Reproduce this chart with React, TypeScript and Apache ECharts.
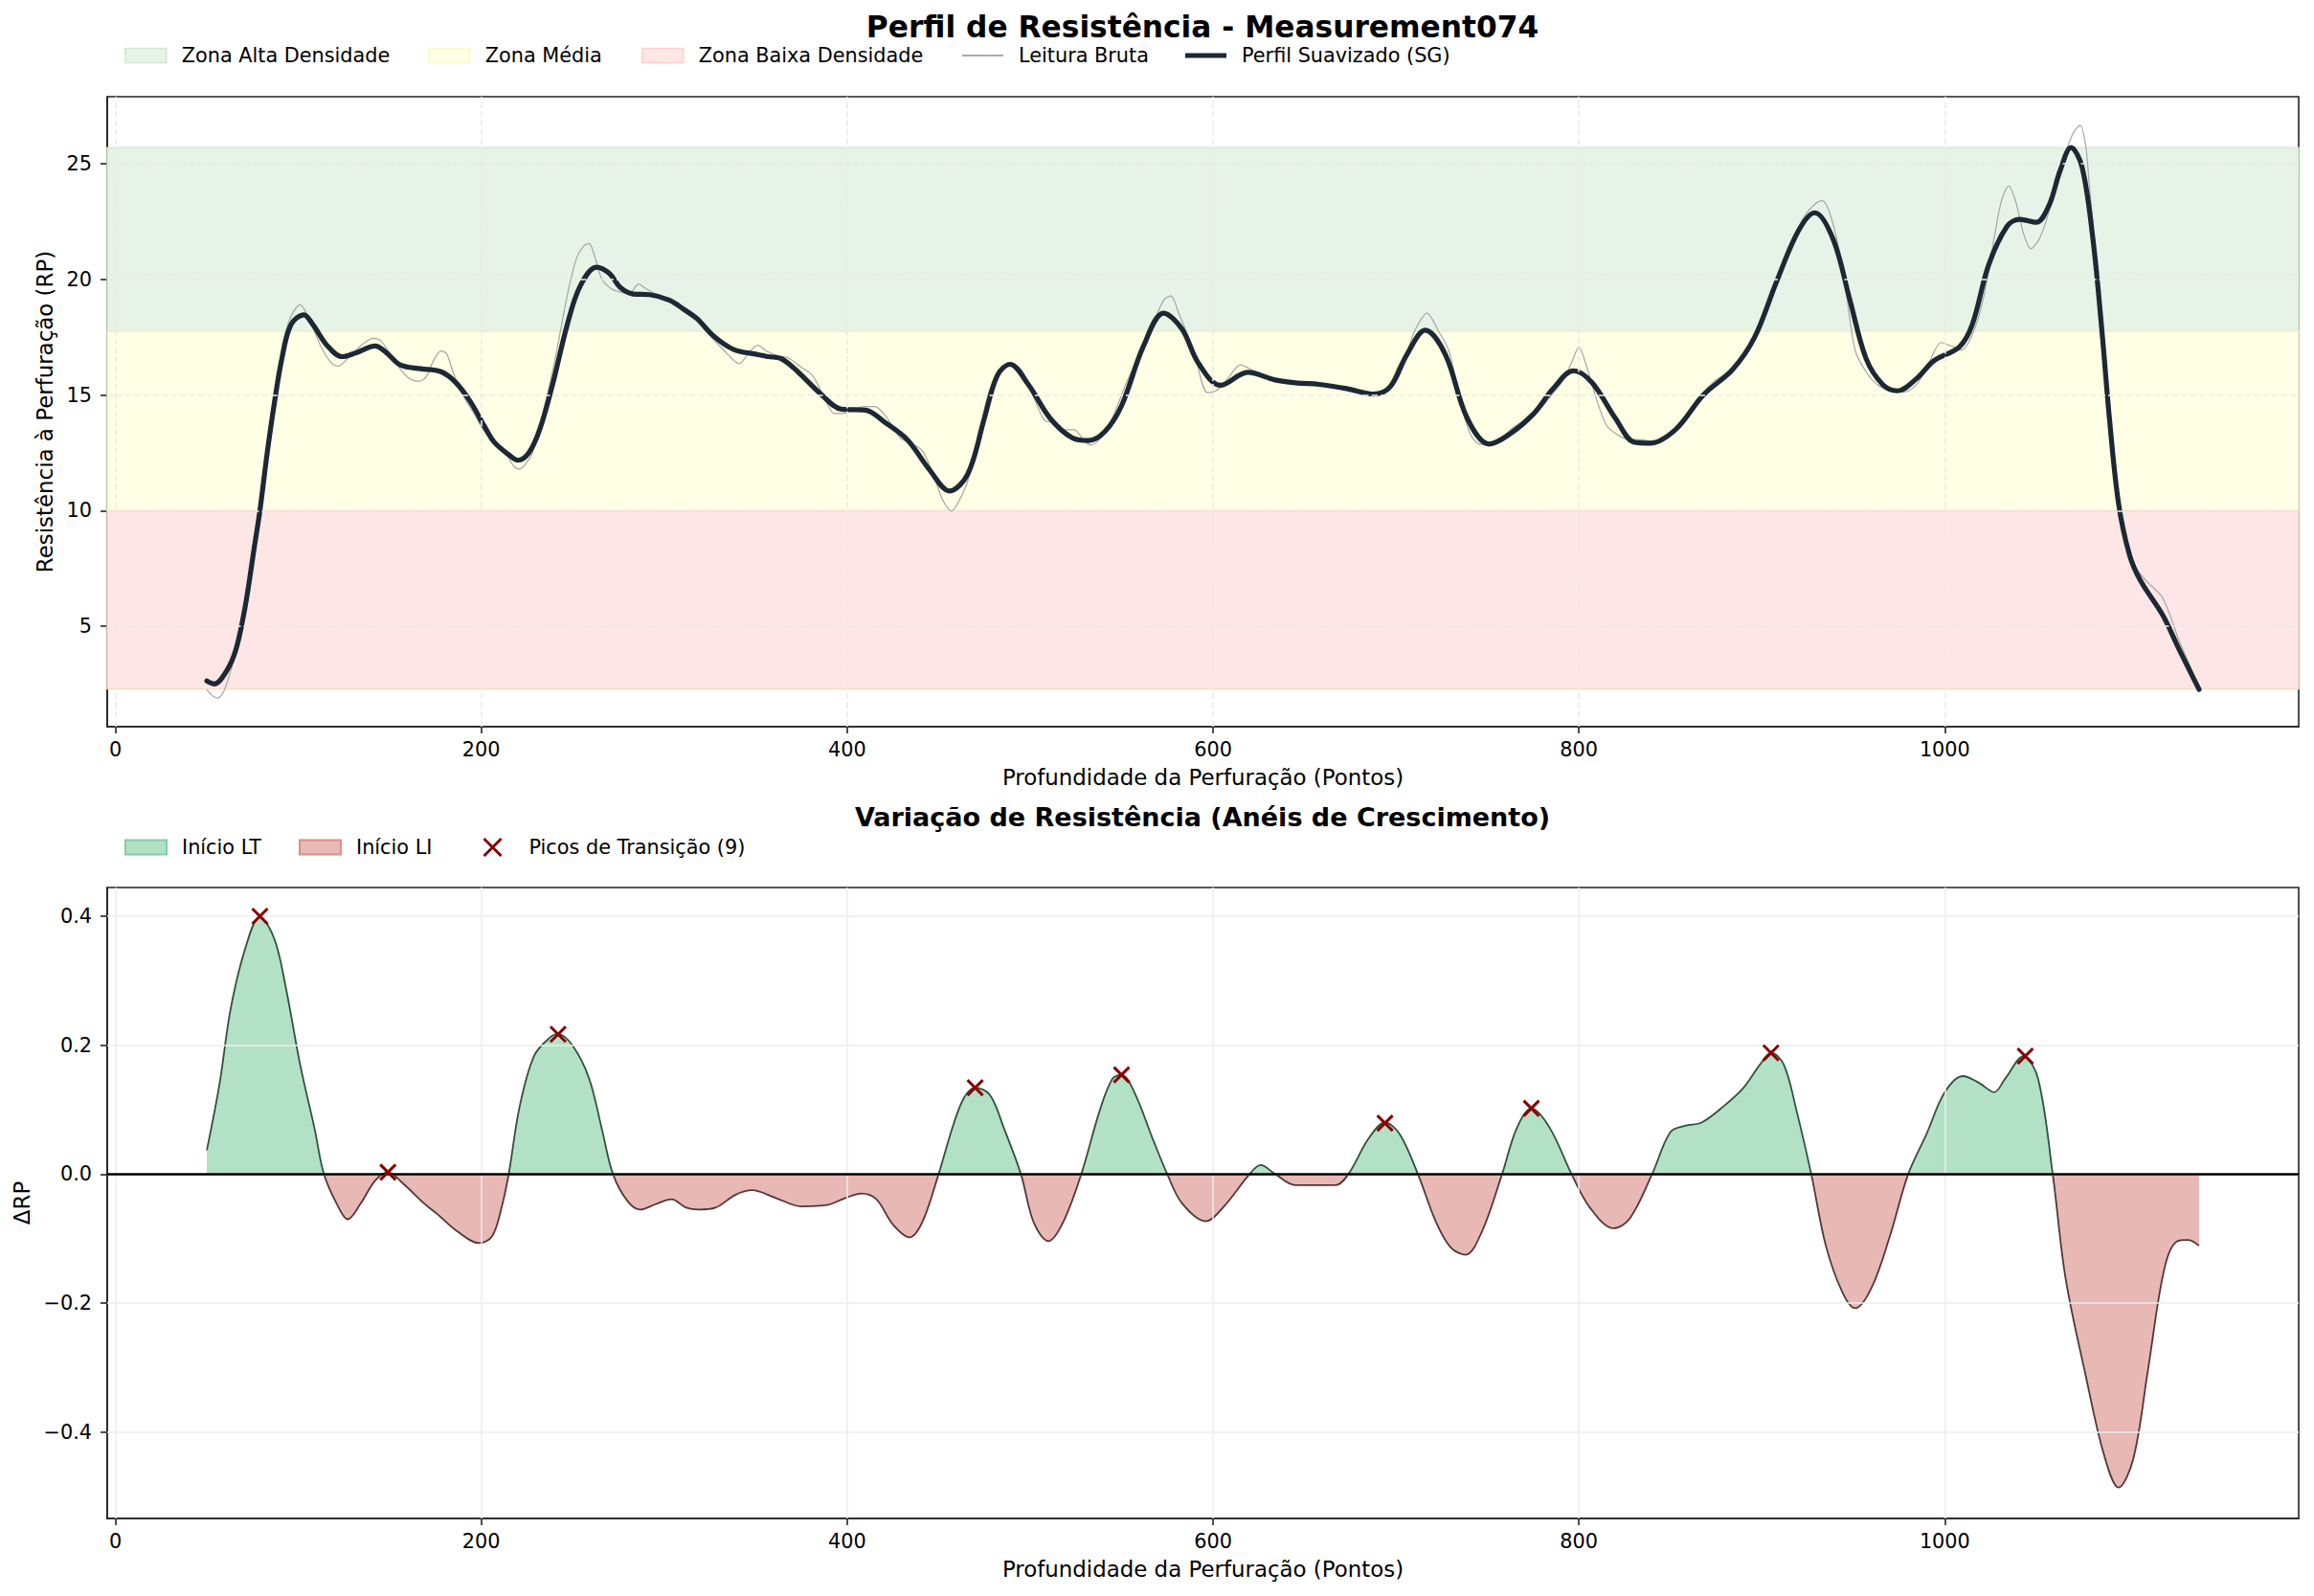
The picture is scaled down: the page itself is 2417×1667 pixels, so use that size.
import React, { useEffect, useRef } from "react";
import * as echarts from "echarts";

const FONT = "DejaVu Sans";

// ---------- Data ----------
const titleTop = "Perfil de Resistência - Measurement074";
const titleBottom = "Variação de Resistência (Anéis de Crescimento)";
const xAxisName = "Profundidade da Perfuração (Pontos)";
const yAxisNameTop = "Resistência à Perfuração (RP)";
const yAxisNameBottom = "ΔRP";

const xTicks = [0, 200, 400, 600, 800, 1000];
const rpTicks = [5, 10, 15, 20, 25];
const deltaTicks = [-0.4, -0.2, 0, 0.2, 0.4];

// zone limits: [low, mid-low, mid-high, high]
const zoneLimits = [2.3, 10.0, 17.75, 25.7];

// Smoothed profile (Savitzky-Golay)
const depthSG = [50, 54, 61, 66, 71, 76, 79, 83, 87, 91, 96, 103, 108, 116, 124, 132, 142, 148, 156, 167, 178, 186, 194, 202, 207, 215, 220, 226, 232, 239, 247, 254, 263, 270, 276, 283, 292, 303, 311, 318, 327, 338, 350, 357, 364, 373, 385, 397, 410, 421, 433, 445, 456, 466, 475, 482, 489, 499, 511, 523, 532, 541, 550, 562, 573, 583, 592, 604, 619, 634, 646, 658, 673, 688, 697, 706, 716, 727, 739, 751, 762, 775, 786, 797, 807, 820, 830, 839, 853, 868, 884, 896, 908, 920, 929, 939, 948, 957, 966, 974, 985, 994, 1008, 1015, 1024, 1034, 1041, 1050, 1057, 1063, 1069, 1075, 1081, 1086, 1090, 1095, 1101, 1107, 1119, 1128, 1139];
const rpSG = [2.64, 2.51, 3.1, 4.02, 5.87, 8.45, 10.0, 12.5, 14.7, 16.57, 18.04, 18.47, 18.04, 17.12, 16.66, 16.84, 17.12, 16.84, 16.29, 16.14, 16.01, 15.55, 14.72, 13.61, 12.97, 12.42, 12.18, 12.5, 13.52, 15.46, 18.04, 19.7, 20.53, 20.26, 19.65, 19.37, 19.34, 19.1, 18.69, 18.3, 17.55, 16.97, 16.77, 16.66, 16.57, 16.01, 15.09, 14.39, 14.35, 13.8, 13.06, 11.77, 10.85, 11.59, 13.99, 15.83, 16.33, 15.46, 13.99, 13.15, 13.03, 13.43, 14.54, 17.12, 18.54, 17.86, 16.38, 15.42, 15.98, 15.65, 15.52, 15.46, 15.28, 15.04, 15.37, 16.75, 17.8, 16.75, 13.99, 12.88, 13.3, 14.17, 15.28, 16.05, 15.55, 13.99, 12.97, 12.92, 13.52, 15.0, 16.1, 17.49, 19.89, 22.1, 22.88, 21.73, 19.15, 16.57, 15.46, 15.18, 15.74, 16.48, 17.08, 18.04, 20.63, 22.29, 22.6, 22.47, 23.21, 24.69, 25.7, 24.87, 21.73, 17.68, 13.99, 10.3, 8.08, 6.97, 5.5, 4.02, 2.27];

// Raw reading
const depthRaw = [50, 53, 56, 59, 62, 66, 71, 76, 80, 84, 88, 92, 96, 101, 104, 108, 113, 118, 122, 126, 131, 136, 141, 145, 150, 156, 161, 166, 170, 174, 178, 181, 185, 190, 196, 202, 208, 214, 218, 221, 224, 228, 233, 240, 247, 252, 256, 259, 262, 266, 271, 276, 281, 286, 290, 296, 303, 312, 320, 327, 333, 338, 341, 346, 351, 356, 362, 368, 375, 381, 387, 393, 398, 404, 410, 415, 421, 429, 435, 441, 447, 452, 457, 461, 466, 471, 477, 483, 491, 496, 503, 508, 513, 518, 524, 529, 533, 537, 541, 546, 552, 560, 567, 573, 577, 581, 586, 591, 597, 602, 608, 615, 621, 628, 634, 641, 648, 656, 664, 672, 680, 688, 696, 701, 706, 711, 717, 723, 729, 735, 740, 745, 751, 757, 764, 770, 775, 781, 786, 791, 796, 800, 804, 810, 815, 820, 826, 835, 843, 850, 858, 866, 874, 880, 887, 893, 899, 905, 911, 917, 923, 929, 933, 937, 942, 946, 951, 957, 963, 970, 978, 985, 992, 998, 1004, 1009, 1015, 1021, 1027, 1031, 1035, 1039, 1043, 1047, 1052, 1058, 1064, 1070, 1074, 1077, 1079, 1082, 1084, 1088, 1092, 1095, 1099, 1104, 1110, 1115, 1119, 1123, 1128, 1134, 1139];
const rpRaw = [2.27, 2.0, 1.9, 2.15, 2.8, 3.9, 5.8, 8.5, 10.6, 13.2, 15.5, 17.4, 18.4, 18.9, 18.6, 17.9, 17.0, 16.4, 16.25, 16.5, 16.9, 17.25, 17.45, 17.35, 16.8, 16.1, 15.7, 15.6, 15.8, 16.5, 16.9, 16.8, 15.9, 15.0, 14.2, 13.4, 12.9, 12.4, 11.9, 11.8, 12.0, 12.5, 14.0, 16.4, 19.3, 20.9, 21.45, 21.55, 21.0, 20.0, 19.6, 19.45, 19.4, 19.8, 19.6, 19.35, 19.1, 18.6, 18.1, 17.4, 16.9, 16.5, 16.35, 16.8, 17.15, 16.9, 16.7, 16.6, 16.2, 15.85, 15.0, 14.2, 14.2, 14.4, 14.5, 14.5, 14.1, 13.15, 12.9, 12.6, 11.6, 10.5, 9.98, 10.4, 11.3, 12.9, 15.0, 16.0, 16.3, 16.0, 14.7, 13.9, 13.8, 13.5, 13.5, 13.1, 12.84, 13.0, 13.4, 14.2, 15.4, 16.8, 18.04, 19.1, 19.28, 18.6, 17.6, 16.4, 15.1, 15.2, 15.7, 16.3, 16.1, 15.8, 15.6, 15.6, 15.5, 15.55, 15.4, 15.3, 15.2, 15.0, 15.4, 16.2, 16.9, 17.9, 18.54, 17.8, 16.9, 14.8, 13.43, 12.9, 12.85, 13.1, 13.6, 13.9, 14.1, 14.6, 15.09, 15.6, 16.4, 17.07, 16.3, 14.72, 13.7, 13.34, 13.1, 13.06, 12.95, 13.3, 13.9, 14.9, 15.6, 15.9, 16.3, 16.94, 18.0, 19.3, 20.6, 21.7, 22.7, 23.25, 23.4, 22.9, 21.36, 19.5, 16.94, 16.0, 15.46, 15.2, 15.13, 15.5, 16.5, 17.27, 17.1, 16.94, 17.6, 19.15, 21.8, 23.4, 24.04, 23.3, 22.0, 21.33, 21.8, 23.2, 25.0, 26.3, 26.66, 25.8, 24.1, 21.5, 19.5, 15.5, 12.1, 10.2, 8.82, 7.6, 6.97, 6.6, 6.24, 5.5, 4.4, 3.3, 2.27];

// Resistance variation (ΔRP)
const depthDelta = [50, 57, 63, 71, 79, 87, 93, 101, 109, 114, 121, 127, 134, 142, 149, 157, 169, 176, 187, 199, 206, 211, 215, 221, 229, 238, 242, 250, 259, 266, 272, 280, 287, 295, 304, 312, 319, 328, 339, 348, 361, 375, 389, 399, 408, 416, 425, 434, 441, 450, 458, 464, 470, 478, 486, 495, 502, 510, 518, 528, 538, 545, 550, 557, 567, 575, 583, 596, 606, 620, 626, 634, 645, 657, 667, 674, 685, 694, 702, 712, 722, 730, 738, 747, 758, 766, 774, 784, 796, 806, 819, 828, 840, 850, 858, 867, 879, 890, 899, 905, 912, 919, 927, 935, 944, 951, 960, 970, 980, 990, 1000, 1010, 1019, 1027, 1033, 1043, 1051, 1059, 1066, 1077, 1087, 1095, 1103, 1111, 1120, 1127, 1133, 1139];
const deltaRP = [0.037, 0.141, 0.256, 0.35, 0.399, 0.364, 0.292, 0.17, 0.069, 0.0, -0.046, -0.07, -0.046, -0.01, 0.003, -0.014, -0.046, -0.062, -0.089, -0.107, -0.096, -0.053, 0.0, 0.105, 0.184, 0.213, 0.217, 0.199, 0.148, 0.069, 0.0, -0.042, -0.055, -0.047, -0.039, -0.052, -0.055, -0.052, -0.032, -0.025, -0.037, -0.05, -0.048, -0.037, -0.03, -0.039, -0.078, -0.098, -0.075, 0.0, 0.076, 0.119, 0.134, 0.123, 0.069, 0.0, -0.075, -0.104, -0.075, 0.0, 0.098, 0.148, 0.154, 0.127, 0.055, 0.0, -0.045, -0.073, -0.05, 0.0, 0.014, 0.0, -0.017, -0.017, -0.017, 0.0, 0.055, 0.08, 0.062, 0.0, -0.075, -0.114, -0.125, -0.089, 0.0, 0.071, 0.102, 0.072, 0.0, -0.052, -0.084, -0.068, 0.0, 0.065, 0.075, 0.08, 0.105, 0.134, 0.17, 0.188, 0.17, 0.098, 0.0, -0.111, -0.183, -0.208, -0.176, -0.096, 0.0, 0.062, 0.127, 0.152, 0.141, 0.127, 0.148, 0.183, 0.148, 0.0, -0.161, -0.312, -0.435, -0.486, -0.442, -0.305, -0.147, -0.104, -0.102, -0.111];

// Transition peaks
const peakDepth = [79, 149, 242, 470, 550, 694, 774, 905, 1044];
const peakDelta = [0.4, 0.003, 0.217, 0.134, 0.154, 0.079, 0.102, 0.188, 0.183];

// ---------- Styling ----------
const W = 2417;
const H = 1667;
const GRID_LEFT = 112;
const GRID_W = 2289;
const X_MIN = -4.45;
const X_MAX = 1193.45;

const pairs = (xs: number[], ys: number[]) => xs.map((x, i) => [x, ys[i]]);

const txt = { fontFamily: FONT, fontSize: 20.8, color: "#000" };
const nameTxt = { fontFamily: FONT, fontSize: 22.9, color: "#000" };

function legendOne(name: string, left: number, top: number, w: number, h: number, icon: string, itemStyle: any, pad: number) {
  return {
    show: true,
    selectedMode: false,
    orient: "horizontal",
    left,
    top,
    padding: 0,
    itemGap: 0,
    itemWidth: w,
    itemHeight: h,
    symbolKeepAspect: false,
    data: [{ name, icon, itemStyle }],
    textStyle: { ...txt, lineHeight: 24, padding: [0, 0, 0, pad] },
  };
}

function xAxisCfg(gridIndex: number) {
  return {
    type: "value",
    gridIndex,
    min: X_MIN,
    max: X_MAX,
    axisLine: { show: true, onZero: false, lineStyle: { color: "#222", width: 1.6 } },
    axisTick: { show: true, inside: false, length: 7, lineStyle: { color: "#222", width: 1.6 }, customValues: xTicks },
    axisLabel: { ...txt, margin: 13, customValues: xTicks, formatter: (v: number) => String(Math.round(v)) },
    splitLine: { show: false },
    name: xAxisName,
    nameLocation: "middle",
    nameGap: 41,
    nameTextStyle: { ...nameTxt },
  };
}

export default function App() {
  const ref = useRef<HTMLDivElement>(null);

  useEffect(() => {
    if (!ref.current) return;
    const chart = echarts.init(ref.current, undefined, { renderer: "svg", width: W, height: H });

    const topGridLines = [
      ...xTicks.map((v) => ({ xAxis: v })),
      ...rpTicks.map((v) => ({ yAxis: v })),
    ];
    const bottomGridLines = [
      ...xTicks.map((v) => ({ xAxis: v })),
      ...deltaTicks.map((v) => ({ yAxis: v })),
    ];

    const zoneSeries = (name: string, lo: number, hi: number, fill: string, border: string) => ({
      name,
      type: "line",
      xAxisIndex: 0,
      yAxisIndex: 0,
      data: [],
      z: 1,
      itemStyle: { color: fill },
      silent: true,
      markArea: {
        silent: true,
        itemStyle: { color: fill, borderColor: border, borderWidth: 1.5 },
        label: { show: false },
        data: [[{ yAxis: lo }, { yAxis: hi }]],
      },
    });

    const series: any[] = [
      zoneSeries("Zona Alta Densidade", zoneLimits[2], zoneLimits[3], "#e6f3e6", "#d2e9cf"),
      zoneSeries("Zona Média", zoneLimits[1], zoneLimits[2], "#ffffe6", "#eef5c8"),
      zoneSeries("Zona Baixa Densidade", zoneLimits[0], zoneLimits[1], "#ffe6e6", "#fbd9c4"),
      {
        name: "gridTop",
        type: "line",
        xAxisIndex: 0,
        yAxisIndex: 0,
        data: [],
        z: 2,
        silent: true,
        markLine: {
          silent: true,
          symbol: ["none", "none"],
          label: { show: false },
          lineStyle: { color: "#eaeaea", width: 1.6, type: [6.5, 3] },
          data: topGridLines,
        },
      },
      {
        name: "Leitura Bruta",
        type: "line",
        xAxisIndex: 0,
        yAxisIndex: 0,
        data: pairs(depthRaw, rpRaw),
        smooth: 0.3,
        showSymbol: false,
        z: 3,
        itemStyle: { color: "#a5a5a5" },
        lineStyle: { color: "#a5a5a5", width: 1.2 },
      },
      {
        name: "Perfil Suavizado (SG)",
        type: "line",
        xAxisIndex: 0,
        yAxisIndex: 0,
        data: pairs(depthSG, rpSG),
        smooth: 0.35,
        showSymbol: false,
        z: 4,
        itemStyle: { color: "#1c2833" },
        lineStyle: { color: "#1c2833", width: 5.2, cap: "round", join: "round" },
      },
      {
        name: "gridBottom",
        type: "line",
        xAxisIndex: 1,
        yAxisIndex: 1,
        data: [],
        z: 1,
        silent: true,
        markLine: {
          silent: true,
          symbol: ["none", "none"],
          label: { show: false },
          lineStyle: { color: "#ececec", width: 1.5, type: "solid" },
          data: bottomGridLines,
        },
      },
      { name: "Início LT", type: "line", xAxisIndex: 1, yAxisIndex: 1, data: [], itemStyle: { color: "#b3e1c6" } },
      { name: "Início LI", type: "line", xAxisIndex: 1, yAxisIndex: 1, data: [], itemStyle: { color: "#e8b8b5" } },
      {
        name: "ΔRP área",
        type: "line",
        xAxisIndex: 1,
        yAxisIndex: 1,
        data: pairs(depthDelta, deltaRP),
        smooth: 0.35,
        showSymbol: false,
        z: 2,
        lineStyle: { width: 0 },
        areaStyle: { opacity: 1, origin: "auto" },
      },
      {
        name: "ΔRP",
        type: "line",
        xAxisIndex: 1,
        yAxisIndex: 1,
        data: pairs(depthDelta, deltaRP),
        smooth: 0.35,
        showSymbol: false,
        z: 3,
        lineStyle: { width: 1.8 },
        markLine: {
          silent: true,
          symbol: ["none", "none"],
          label: { show: false },
          lineStyle: { color: "#000", width: 2.6, type: "solid" },
          data: [{ yAxis: 0 }],
        },
      },
      {
        name: "Picos de Transição (9)",
        type: "scatter",
        xAxisIndex: 1,
        yAxisIndex: 1,
        data: pairs(peakDepth, peakDelta),
        symbol: "path://M0,0L16,16M16,0L0,16",
        symbolSize: 16,
        z: 5,
        itemStyle: { color: "rgba(0,0,0,0)", borderColor: "#8b0000", borderWidth: 3, opacity: 1 },
      },
    ];

    const areaIdx = series.findIndex((s) => s.name === "ΔRP área");
    const lineIdx = series.findIndex((s) => s.name === "ΔRP");

    const option: any = {
      animation: false,
      backgroundColor: "#ffffff",
      textStyle: { fontFamily: FONT },
      title: [
        {
          text: titleTop,
          left: 1256,
          top: 12,
          textAlign: "center",
          padding: 0,
          textStyle: { fontFamily: FONT, fontSize: 31.25, fontWeight: "bold", color: "#000" },
        },
        {
          text: titleBottom,
          left: 1256,
          top: 840,
          textAlign: "center",
          padding: 0,
          textStyle: { fontFamily: FONT, fontSize: 27, fontWeight: "bold", color: "#000" },
        },
      ],
      legend: [
        legendOne("Zona Alta Densidade", 130, 46, 43, 15, "rect", { color: "#e6f3e6", borderColor: "#cfe7cf", borderWidth: 1.5 }, 11),
        legendOne("Zona Média", 447, 46, 43, 15, "rect", { color: "#ffffe6", borderColor: "#f7f7c9", borderWidth: 1.5 }, 11),
        legendOne("Zona Baixa Densidade", 670, 46, 43, 15, "rect", { color: "#ffe6e6", borderColor: "#ffcfcf", borderWidth: 1.5 }, 11),
        legendOne("Leitura Bruta", 1005, 46, 43, 2, "rect", { color: "#ababab", borderWidth: 0 }, 11),
        legendOne("Perfil Suavizado (SG)", 1238, 46, 43, 5, "rect", { color: "#1c2833", borderWidth: 0 }, 11),
        legendOne("Início LT", 130, 873, 43, 15, "rect", { color: "#b3e1c6", borderColor: "#82cea4", borderWidth: 2 }, 11),
        legendOne("Início LI", 312, 873, 43, 15, "rect", { color: "#e8b8b5", borderColor: "#dc8e88", borderWidth: 2 }, 11),
        legendOne("Picos de Transição (9)", 504, 873, 18, 18, "path://M0,0L16,16M16,0L0,16", { color: "rgba(0,0,0,0)", borderColor: "#8b0000", borderWidth: 3 }, 24),
      ],
      grid: [
        { left: GRID_LEFT, top: 101, width: GRID_W, height: 658, show: true, borderColor: "#222", borderWidth: 1.6, backgroundColor: "transparent", containLabel: false, outerBoundsMode: "none" },
        { left: GRID_LEFT, top: 927, width: GRID_W, height: 659, show: true, borderColor: "#222", borderWidth: 1.6, backgroundColor: "transparent", containLabel: false, outerBoundsMode: "none" },
      ],
      xAxis: [xAxisCfg(0), xAxisCfg(1)],
      yAxis: [
        {
          type: "value",
          gridIndex: 0,
          min: 0.66,
          max: 27.9,
          axisLine: { show: true, onZero: false, lineStyle: { color: "#222", width: 1.6 } },
          axisTick: { show: true, length: 7, lineStyle: { color: "#222", width: 1.6 }, customValues: rpTicks },
          axisLabel: { ...txt, margin: 16, customValues: rpTicks, formatter: (v: number) => String(Math.round(v)) },
          splitLine: { show: false },
          name: yAxisNameTop,
          nameLocation: "middle",
          nameGap: 52,
          nameRotate: 90,
          nameTextStyle: { ...nameTxt },
        },
        {
          type: "value",
          gridIndex: 1,
          min: -0.534,
          max: 0.4445,
          axisLine: { show: true, onZero: false, lineStyle: { color: "#222", width: 1.6 } },
          axisTick: { show: true, length: 7, lineStyle: { color: "#222", width: 1.6 }, customValues: deltaTicks },
          axisLabel: {
            ...txt,
            margin: 16,
            customValues: deltaTicks,
            formatter: (v: number) => (v < -1e-9 ? "\u2212" : "") + Math.abs(v).toFixed(1),
          },
          splitLine: { show: false },
          name: yAxisNameBottom,
          nameLocation: "middle",
          nameGap: 73,
          nameRotate: 90,
          nameTextStyle: { ...nameTxt },
        },
      ],
      visualMap: [
        {
          type: "piecewise",
          show: false,
          seriesIndex: areaIdx,
          dimension: 1,
          pieces: [
            { gte: -10, lt: 0, color: "#e8b8b5" },
            { gte: 0, lte: 10, color: "#b3e1c6" },
          ],
        },
        {
          type: "piecewise",
          show: false,
          seriesIndex: lineIdx,
          dimension: 1,
          pieces: [
            { gte: -10, lt: 0, color: "#553636" },
            { gte: 0, lte: 10, color: "#344f3f" },
          ],
        },
      ],
      series,
    };

    chart.setOption(option);
    return () => chart.dispose();
  }, []);

  return (
    <div
      ref={ref}
      style={{ position: "absolute", left: 0, top: 0, width: W, height: H, background: "#fff" }}
    />
  );
}
